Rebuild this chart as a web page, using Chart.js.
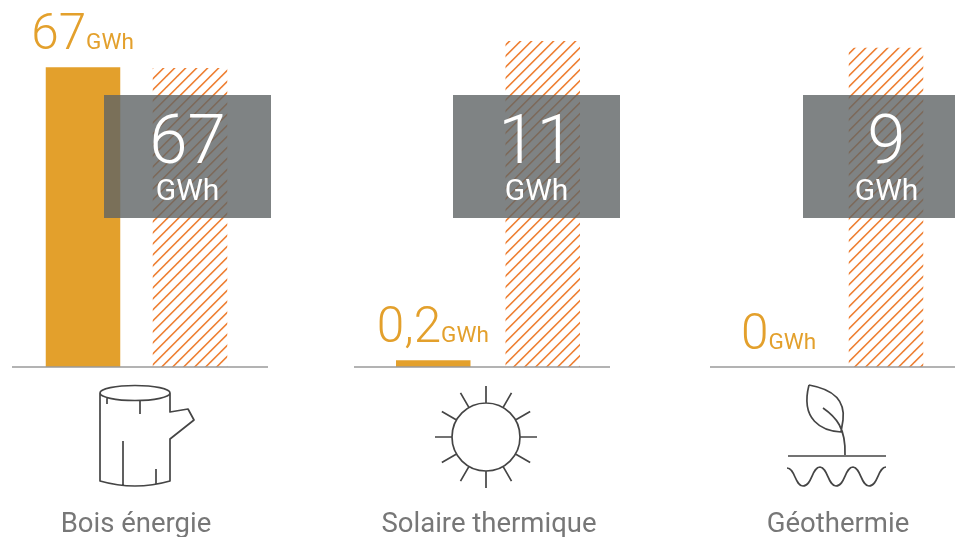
<!DOCTYPE html>
<html>
<head>
<meta charset="utf-8">
<title>Production et objectifs</title>
<script src="https://cdn.jsdelivr.net/npm/chart.js@4"></script>
<style>
	html, body { margin: 0; padding: 0; background: #fff; overflow: hidden; }
	#stage { position: relative; width: 955px; height: 537px; overflow: hidden; }
	#stage canvas { position: absolute; left: 0; top: 0; }
</style>
</head>
<body>
<div id="stage">
	<canvas id="chart0" width="955" height="537"></canvas>
	<canvas id="chart1" width="955" height="537"></canvas>
	<canvas id="chart2" width="955" height="537"></canvas>
</div>
<script>
/* values */
const categories = ['Bois énergie', 'Solaire thermique', 'Géothermie']
const barNames = ['Production', 'Objectif']
const productionValues = [67, 0.23, 0]
const targetValues = [66.8, 11, 9]
const productionLabels = ['67', '0,2', '0']
const targetLabels = ['67', '11', '9']
const unit = 'GWh'
const axisMax = [82, 12.38, 10.35]

/* page layout of each panel */
const FONT = 'Roboto, sans-serif'
const panels = [
	{ areaLeft: 29.5, areaRight: 243.5, lineLeft: 12, lineRight: 268, boxLeft: 104, labelX: 136, icon: drawLog },
	{ areaLeft: 378.5, areaRight: 597.5, lineLeft: 354, lineRight: 610, boxLeft: 453, labelX: 489, icon: drawSun },
	{ areaLeft: 725.5, areaRight: 939.5, lineLeft: 710, lineRight: 966, boxLeft: 803, labelX: 838, icon: drawSprout }
]

function hatch() {
	const size = 11
	const tile = document.createElement('canvas')
	tile.width = size
	tile.height = size
	const c = tile.getContext('2d')
	c.fillStyle = '#fff'
	c.fillRect(0, 0, size, size)
	c.strokeStyle = '#ee8034'
	c.lineWidth = 1.6
	c.beginPath()
	for (let i = -1; i <= 1; i++) {
		c.moveTo(i * size - 1, size + 1.7)
		c.lineTo(i * size + size + 1, -0.3)
	}
	c.stroke()
	return c.createPattern(tile, 'repeat')
}

function drawLog(c) {
	c.beginPath()
	c.ellipse(135, 393, 35, 7.5, 0, 0, Math.PI * 2)
	c.moveTo(100, 393)
	c.lineTo(100, 481)
	c.quadraticCurveTo(135, 491, 170, 481)
	c.lineTo(170, 439)
	c.lineTo(194, 420)
	c.lineTo(188, 409)
	c.lineTo(170, 412)
	c.lineTo(170, 393)
	c.moveTo(107, 398)
	c.lineTo(107, 404)
	c.moveTo(140, 401)
	c.lineTo(140, 414)
	c.moveTo(123, 441)
	c.lineTo(123, 485)
	c.moveTo(156, 469)
	c.lineTo(156, 484)
	c.stroke()
}

function drawSun(c) {
	const cx = 486
	const cy = 437
	c.beginPath()
	c.arc(cx, cy, 34, 0, Math.PI * 2)
	for (let i = 0; i < 12; i++) {
		const a = i * Math.PI / 6
		c.moveTo(cx + Math.cos(a) * 34, cy + Math.sin(a) * 34)
		c.lineTo(cx + Math.cos(a) * 51, cy + Math.sin(a) * 51)
	}
	c.stroke()
}

function drawSprout(c) {
	c.beginPath()
	c.moveTo(809, 385)
	c.bezierCurveTo(826, 388, 846, 396, 843, 420)
	c.lineTo(841, 432)
	c.bezierCurveTo(822, 431, 800, 420, 809, 385)
	c.moveTo(823, 408)
	c.bezierCurveTo(836, 417, 846, 428, 845, 455)
	c.moveTo(788, 456)
	c.lineTo(886, 456)
	c.moveTo(787, 468)
	for (let i = 0; i < 3; i++) {
		const x = 787 + i * 33
		c.bezierCurveTo(x + 8, 468, x + 8, 486, x + 16, 486)
		c.bezierCurveTo(x + 25, 486, x + 25, 467, x + 33, 467)
	}
	c.stroke()
}

const panelPlugin = {
	id: 'panelPlugin',
	afterDatasetsDraw(chart, args, opts) {
		const c = chart.ctx
		const i = opts.index
		const p = panels[i]
		const y = chart.scales.y
		const x = chart.scales.x
		const base = y.getPixelForValue(0)
		c.save()

		// baseline
		c.strokeStyle = '#9a9a9a'
		c.lineWidth = 1.4
		c.beginPath()
		c.moveTo(p.lineLeft, base)
		c.lineTo(p.lineRight, base)
		c.stroke()

		// orange value above the bar
		const big = '300 49.5px ' + FONT
		const small = '400 22.5px ' + FONT
		c.textAlign = 'left'
		c.textBaseline = 'alphabetic'
		c.fillStyle = '#e3a02c'
		c.font = big
		const w1 = c.measureText(productionLabels[i]).width
		c.font = small
		const w2 = c.measureText(unit).width
		const left = x.getPixelForValue(0) - (w1 + w2) / 2 - 0.5
		const top = y.getPixelForValue(productionValues[i]) - 18
		c.font = big
		c.fillText(productionLabels[i], left, top)
		c.font = small
		c.fillText(unit, left + w1, top)

		// gray box
		c.fillStyle = 'rgba(95,100,101,0.8)'
		c.fillRect(p.boxLeft, 95, 167, 123)
		c.fillStyle = '#fff'
		c.textAlign = 'center'
		c.font = '300 69px ' + FONT
		c.fillText(targetLabels[i], p.boxLeft + 83.5, 163)
		c.font = '400 30px ' + FONT
		c.fillText(unit, p.boxLeft + 83.5, 200)

		// icon
		c.strokeStyle = '#454545'
		c.lineWidth = 1.7
		c.lineJoin = 'round'
		p.icon(c)

		// category name
		c.fillStyle = '#777'
		c.font = '400 27.5px ' + FONT
		c.fillText(categories[i], p.labelX, 532)
		c.restore()
	}
}

categories.forEach((name, i) => {
	const p = panels[i]
	new Chart(document.getElementById('chart' + i), {
		type: 'bar',
		data: {
			labels: barNames,
			datasets: [{
				data: [productionValues[i], targetValues[i]],
				backgroundColor: ['#e3a02c', hatch()],
				borderWidth: 0,
				categoryPercentage: 1,
				barPercentage: 74.5 / ((p.areaRight - p.areaLeft) / 2)
			}]
		},
		options: {
			responsive: false,
			animation: false,
			layout: { padding: { left: p.areaLeft, right: 955 - p.areaRight, top: 0, bottom: 170 } },
			plugins: {
				legend: { display: false },
				tooltip: { enabled: false },
				panelPlugin: { index: i }
			},
			scales: {
				x: { display: false },
				y: { display: false, min: 0, max: axisMax[i] }
			}
		},
		plugins: [panelPlugin]
	})
})
</script>
</body>
</html>
